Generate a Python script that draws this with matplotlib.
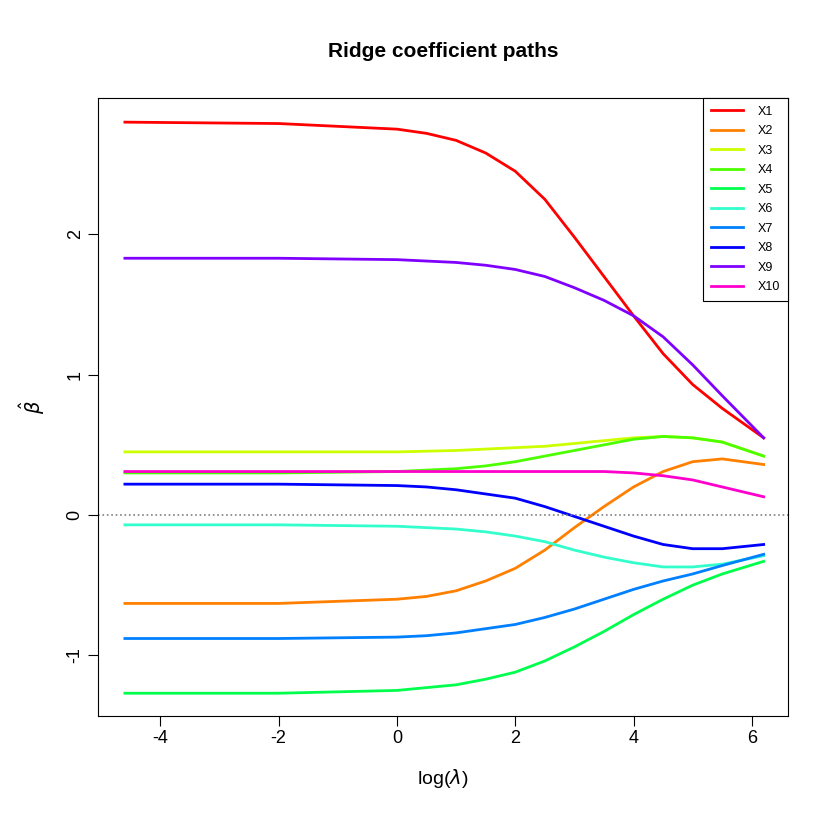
import numpy as np
import matplotlib.pyplot as plt

plt.rcParams['font.family'] = ['Liberation Sans', 'DejaVu Sans']
plt.rcParams['axes.unicode_minus'] = False

log_lambda = [-4.6, -2, 0, 0.5, 1, 1.5, 2, 2.5, 3, 3.5, 4, 4.5, 5, 5.5, 6.2]
coef = {
    "X1": [2.80, 2.79, 2.75, 2.72, 2.67, 2.58, 2.45, 2.25, 1.98, 1.70, 1.42, 1.15, 0.93, 0.76, 0.55],
    "X2": [-0.63, -0.63, -0.60, -0.58, -0.54, -0.47, -0.38, -0.25, -0.09, 0.06, 0.20, 0.31, 0.38, 0.40, 0.36],
    "X3": [0.45, 0.45, 0.45, 0.455, 0.46, 0.47, 0.48, 0.49, 0.51, 0.53, 0.55, 0.56, 0.55, 0.52, 0.42],
    "X4": [0.30, 0.30, 0.31, 0.32, 0.33, 0.35, 0.38, 0.42, 0.46, 0.50, 0.54, 0.56, 0.55, 0.52, 0.42],
    "X5": [-1.27, -1.27, -1.25, -1.23, -1.21, -1.17, -1.12, -1.04, -0.94, -0.83, -0.71, -0.60, -0.50, -0.42, -0.33],
    "X6": [-0.07, -0.07, -0.08, -0.09, -0.10, -0.12, -0.15, -0.19, -0.25, -0.30, -0.34, -0.37, -0.37, -0.35, -0.29],
    "X7": [-0.88, -0.88, -0.87, -0.86, -0.84, -0.81, -0.78, -0.73, -0.67, -0.60, -0.53, -0.47, -0.42, -0.36, -0.28],
    "X8": [0.22, 0.22, 0.21, 0.20, 0.18, 0.15, 0.12, 0.06, -0.01, -0.08, -0.15, -0.21, -0.24, -0.24, -0.21],
    "X9": [1.83, 1.83, 1.82, 1.81, 1.80, 1.78, 1.75, 1.70, 1.62, 1.53, 1.42, 1.27, 1.07, 0.85, 0.55],
    "X10": [0.31, 0.31, 0.31, 0.31, 0.31, 0.31, 0.31, 0.31, 0.31, 0.31, 0.30, 0.28, 0.25, 0.20, 0.13],
}
colors = ["#FF0000", "#FF8000", "#CCFF00", "#4CFF00", "#00FF4D", "#33FFCC",
          "#0080FF", "#0000FF", "#8000FF", "#FF00CC"]

fig = plt.figure(figsize=(8.4, 8.4), dpi=100)
ax = fig.add_axes([0.117, 0.148, 0.821, 0.735])
for (name, vals), c in zip(coef.items(), colors):
    ax.plot(log_lambda, vals, color=c, lw=2, label=name)
ax.axhline(0, color="gray", ls=":", lw=1.2)
ax.set_xlim(-5.05, 6.61)
ax.set_ylim(-1.43, 2.97)
ax.set_xticks([-4, -2, 0, 2, 4, 6])
ax.set_yticks([-1, 0, 1, 2])
ax.tick_params(labelsize=13, length=7)
for lab in ax.get_yticklabels():
    lab.set_rotation(90)
    lab.set_va("center")
ax.set_xlabel(r"log($\lambda$)", fontsize=14, labelpad=14)
ax.set_ylabel(r"$\hat{\beta}$", fontsize=14, labelpad=14)
ax.set_title("Ridge coefficient paths", fontsize=15, fontweight="bold", pad=30)
leg = ax.legend(loc="upper right", fontsize=9, fancybox=False, framealpha=1,
                edgecolor="black", borderaxespad=0, handlelength=2.6,
                labelspacing=0.6, borderpad=0.6, handletextpad=1.2)
leg.get_frame().set_linewidth(0.8)
fig.savefig("out.png", dpi=100)
